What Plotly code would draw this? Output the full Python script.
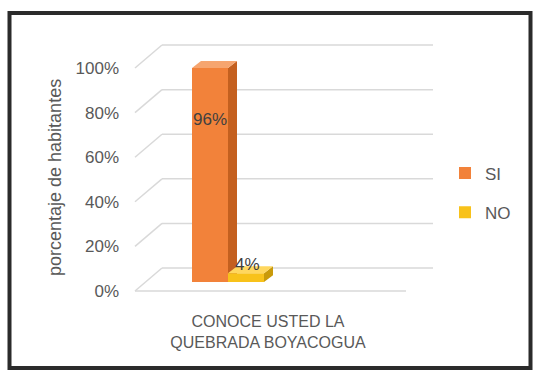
import plotly.graph_objects as go

# ---- data -------------------------------------------------------------
series_names = ["SI", "NO"]
series_values = [96, 4]
category_label = "CONOCE USTED LA<br>QUEBRADA BOYACOGUA"
tick_values = [0, 20, 40, 60, 80, 100]
y_title = "porcentaje de habitantes"

# ---- styling / pseudo-3D geometry --------------------------------------
front_colors = ["#F2823A", "#F8C21A"]
side_colors = ["#C4601F", "#C99A0A"]
top_colors = ["#F6A56F", "#FFD75E"]
label_dy = [-23, 4.0]          # label offset from the bar top (percent units)

W, H = 534, 371
L, R, T, B = 120, 94, 25, 71
PX_PER_PCT = 2.23              # vertical pixels per percentage point
ZERO_PX = 291                  # pixel row of the front 0 % line
x_range = [L, W - R]           # x axis runs in pixel units
y_range = [-(H - B - ZERO_PX) / PX_PER_PCT, (ZERO_PX - T) / PX_PER_PCT]

CX = 268                       # category centre
WALL_LEFT, WALL_RIGHT = 135, 406
DEPTH_DX, DEPTH_DY = 27, 10.3  # back wall offset
BAR_BASE = 4.0                 # bars stand mid-depth on the floor
BAR_W = 36
BAR_OFFSETS = [-76, -40]       # left edge of each bar relative to CX
BAR_DX, BAR_DY = 9, 3.1        # bar depth
GRID = "#D9D9D9"
TEXT = "#595959"
FONT = "Liberation Sans"

fig = go.Figure()

# back wall gridlines, left wall diagonals and the front floor edge
shapes = []
for v in tick_values:
    shapes.append(dict(type="line", xref="x", yref="y", layer="below",
                       x0=WALL_LEFT + DEPTH_DX, x1=WALL_RIGHT + DEPTH_DX,
                       y0=v + DEPTH_DY, y1=v + DEPTH_DY,
                       line=dict(color=GRID, width=1.5)))
    shapes.append(dict(type="line", xref="x", yref="y", layer="below",
                       x0=WALL_LEFT, x1=WALL_LEFT + DEPTH_DX,
                       y0=v, y1=v + DEPTH_DY,
                       line=dict(color=GRID, width=1.5)))
shapes.append(dict(type="line", xref="x", yref="y", layer="below",
                   x0=WALL_LEFT, x1=WALL_RIGHT, y0=tick_values[0], y1=tick_values[0],
                   line=dict(color=GRID, width=1.5)))


def px_to_paper_x(px):
    return (px - L) / (W - L - R)


def px_to_paper_y(py):
    return (H - B - py) / (H - T - B)


# chart frame
shapes.append(dict(type="rect", xref="paper", yref="paper", layer="above",
                   x0=px_to_paper_x(9.5), x1=px_to_paper_x(530.5),
                   y0=px_to_paper_y(368), y1=px_to_paper_y(13),
                   line=dict(color="#2B2B2B", width=4)))

annotations = [dict(
    x=px_to_paper_x(55), y=px_to_paper_y(178), xref="paper", yref="paper",
    xanchor="center", yanchor="middle",
    text=y_title, textangle=-90, showarrow=False,
    font=dict(family=FONT, size=18, color=TEXT))]

axes = [("x", "y"), ("x2", "y2")]
for i, (name, val) in enumerate(zip(series_names, series_values)):
    xa, ya = axes[i]
    x0 = CX + BAR_OFFSETS[i]
    x1 = x0 + BAR_W
    top = BAR_BASE + val
    # front face
    fig.add_trace(go.Bar(
        x=[(x0 + x1) / 2], y=[val], base=[BAR_BASE], width=[BAR_W],
        name=name, legendgroup=name, marker=dict(color=front_colors[i], line=dict(width=0)),
        xaxis=xa, yaxis=ya, hoverinfo="skip"))
    # side face
    fig.add_trace(go.Scatter(
        x=[x1, x1, x1 + BAR_DX, x1 + BAR_DX, x1],
        y=[BAR_BASE, top, top + BAR_DY, BAR_BASE + BAR_DY, BAR_BASE],
        fill="toself", fillcolor=side_colors[i], mode="lines", line=dict(width=0),
        showlegend=False, hoverinfo="skip", xaxis=xa, yaxis=ya))
    # top face
    fig.add_trace(go.Scatter(
        x=[x0, x1, x1 + BAR_DX, x0 + BAR_DX, x0],
        y=[top, top, top + BAR_DY, top + BAR_DY, top],
        fill="toself", fillcolor=top_colors[i], mode="lines", line=dict(width=0),
        showlegend=False, hoverinfo="skip", xaxis=xa, yaxis=ya))
    annotations.append(dict(
        x=(x0 + x1) / 2 + (1 if i else 0), y=top + label_dy[i], xref="x", yref="y",
        text=f"{val}%", showarrow=False,
        font=dict(family=FONT, size=17, color="#404040")))

fig.update_layout(
    width=W, height=H,
    margin=dict(l=L, r=R, t=T, b=B, autoexpand=False),
    paper_bgcolor="white", plot_bgcolor="white",
    font=dict(family=FONT, color=TEXT),
    barmode="overlay",
    showlegend=True,
    legend=dict(x=px_to_paper_x(445), y=px_to_paper_y(193), xanchor="left", yanchor="middle",
                font=dict(family=FONT, size=17, color=TEXT),
                tracegroupgap=14, bgcolor="rgba(0,0,0,0)"),
    xaxis=dict(range=x_range, showgrid=False, zeroline=False, showline=False,
               tickmode="array", tickvals=[CX], ticktext=[category_label],
               tickfont=dict(family=FONT, size=16, color=TEXT), ticks="",
               ticklabelstandoff=10, fixedrange=True),
    yaxis=dict(range=y_range, showgrid=False, zeroline=False, showline=False,
               tickmode="array", tickvals=tick_values,
               ticktext=[f"{v}%" for v in tick_values],
               tickfont=dict(family=FONT, size=17, color=TEXT), ticks="",
               fixedrange=True),
    xaxis2=dict(range=x_range, overlaying="x", visible=False, matches="x"),
    yaxis2=dict(range=y_range, overlaying="y", visible=False, matches="y"),
    shapes=shapes,
    annotations=annotations,
)

fig.write_html("out.html")
